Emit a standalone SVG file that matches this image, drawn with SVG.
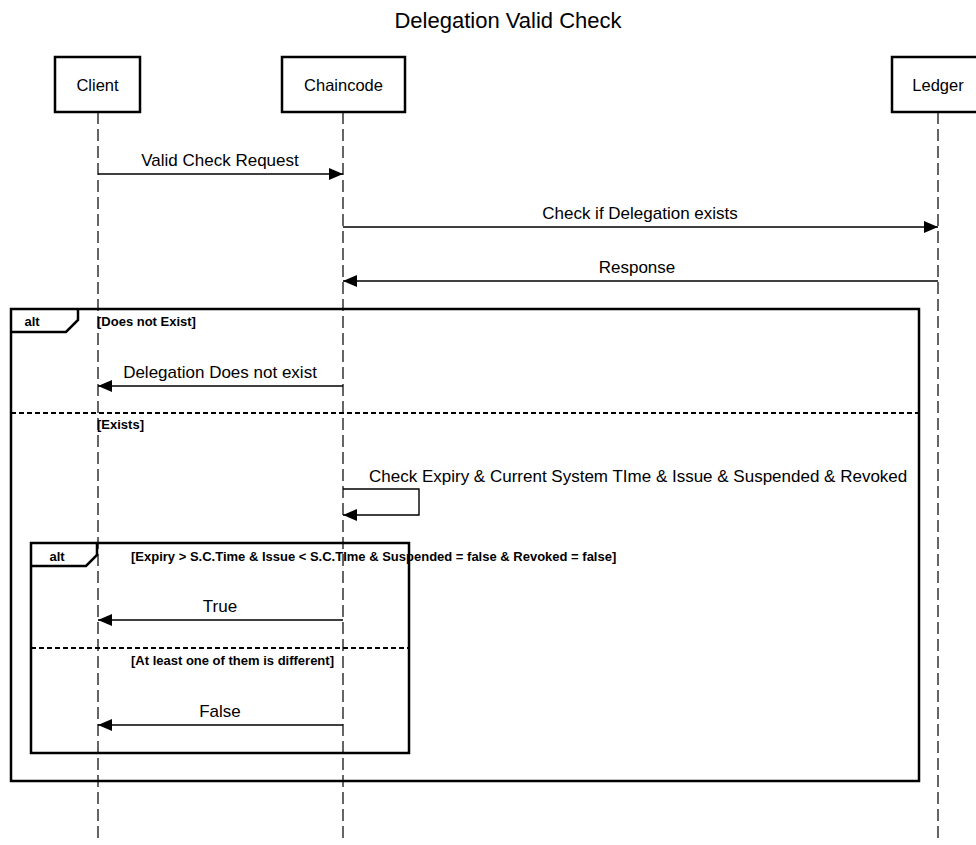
<svg xmlns="http://www.w3.org/2000/svg" width="976" height="845" viewBox="0 0 976 845">
  <style>
    text { font-family: "Liberation Sans", Arial, sans-serif; fill: #000; }
    .title { font-size: 22px; }
    .actor-box { fill: #fff; stroke: #000; stroke-width: 2.5; }
    .actor-label { font-size: 16.5px; text-anchor: middle; }
    .lifeline { stroke: #333; stroke-width: 1.5; stroke-dasharray: 12 5; fill: none; }
    .msg { stroke: #000; stroke-width: 1.4; fill: none; }
    .msg-label { font-size: 17px; text-anchor: middle; }
    .frame { fill: none; stroke: #000; stroke-width: 2.5; }
    .sep { stroke: #000; stroke-width: 2; stroke-dasharray: 5 3; }
    .frame-kw { font-size: 13px; font-weight: bold; text-anchor: middle; }
    .guard { font-size: 13px; font-weight: bold; }
  </style>
  <defs>
    <marker id="arrow" viewBox="0 0 14 12" refX="14" refY="6" markerWidth="14" markerHeight="12" markerUnits="userSpaceOnUse" orient="auto">
      <path d="M0,0 L14,6 L0,12 Z" fill="#000"/>
    </marker>
  </defs>

  <rect width="976" height="845" fill="#fff"/>

  <text class="title" x="508" y="28" text-anchor="middle">Delegation Valid Check</text>

  <!-- lifelines -->
  <g id="lifelines">
    <line class="lifeline" x1="98" y1="112" x2="98" y2="840"/>
    <line class="lifeline" x1="343" y1="112" x2="343" y2="840"/>
    <line class="lifeline" x1="938" y1="112" x2="938" y2="840"/>
  </g>

  <!-- participants -->
  <g id="client">
    <rect class="actor-box" x="55" y="57" width="85" height="55"/>
    <text class="actor-label" x="97.5" y="91">Client</text>
  </g>
  <g id="chaincode">
    <rect class="actor-box" x="282" y="57" width="123" height="55"/>
    <text class="actor-label" x="343.5" y="91">Chaincode</text>
  </g>
  <g id="ledger">
    <rect class="actor-box" x="892" y="57" width="92" height="55"/>
    <text class="actor-label" x="938" y="91">Ledger</text>
  </g>

  <!-- combined fragments -->
  <g id="alt-outer">
    <rect class="frame" x="11" y="309" width="908" height="472"/>
    <path class="frame" d="M11,332 L66,332 L78,320 L78,309"/>
    <text class="frame-kw" x="32" y="326">alt</text>
    <text class="guard" x="97" y="326">[Does not Exist]</text>
    <line class="sep" x1="11" y1="413" x2="919" y2="413"/>
    <text class="guard" x="97" y="429">[Exists]</text>
  </g>

  <g id="alt-inner">
    <rect class="frame" x="31" y="543" width="378" height="210"/>
    <path class="frame" d="M31,566 L86,566 L97,555 L97,543"/>
    <text class="frame-kw" x="57" y="561">alt</text>
    <text class="guard" x="131" y="561">[Expiry &gt; S.C.Time &amp; Issue &lt; S.C.TIme  &amp; Suspended = false &amp; Revoked = false]</text>
    <line class="sep" x1="31" y1="648" x2="409" y2="648"/>
    <text class="guard" x="131" y="665">[At least one of them is different]</text>
  </g>

  <!-- messages -->
  <g id="connectors">
    <line class="msg" x1="98" y1="174" x2="343" y2="174" marker-end="url(#arrow)"/>
    <text class="msg-label" x="220" y="166">Valid Check Request</text>

    <line class="msg" x1="343" y1="227" x2="938" y2="227" marker-end="url(#arrow)"/>
    <text class="msg-label" x="640" y="219">Check if Delegation exists</text>

    <line class="msg" x1="938" y1="281" x2="343" y2="281" marker-end="url(#arrow)"/>
    <text class="msg-label" x="637" y="273">Response</text>

    <line class="msg" x1="343" y1="386" x2="98" y2="386" marker-end="url(#arrow)"/>
    <text class="msg-label" x="220" y="378">Delegation Does not exist</text>

    <path class="msg" d="M343,489 L419,489 L419,515 L343,515" marker-end="url(#arrow)"/>
    <text x="369" y="482" style="font-size:17px">Check Expiry &amp; Current System TIme &amp; Issue &amp; Suspended &amp; Revoked</text>

    <line class="msg" x1="343" y1="620" x2="98" y2="620" marker-end="url(#arrow)"/>
    <text class="msg-label" x="220" y="612">True</text>

    <line class="msg" x1="343" y1="725" x2="98" y2="725" marker-end="url(#arrow)"/>
    <text class="msg-label" x="220" y="717">False</text>
  </g>
</svg>
